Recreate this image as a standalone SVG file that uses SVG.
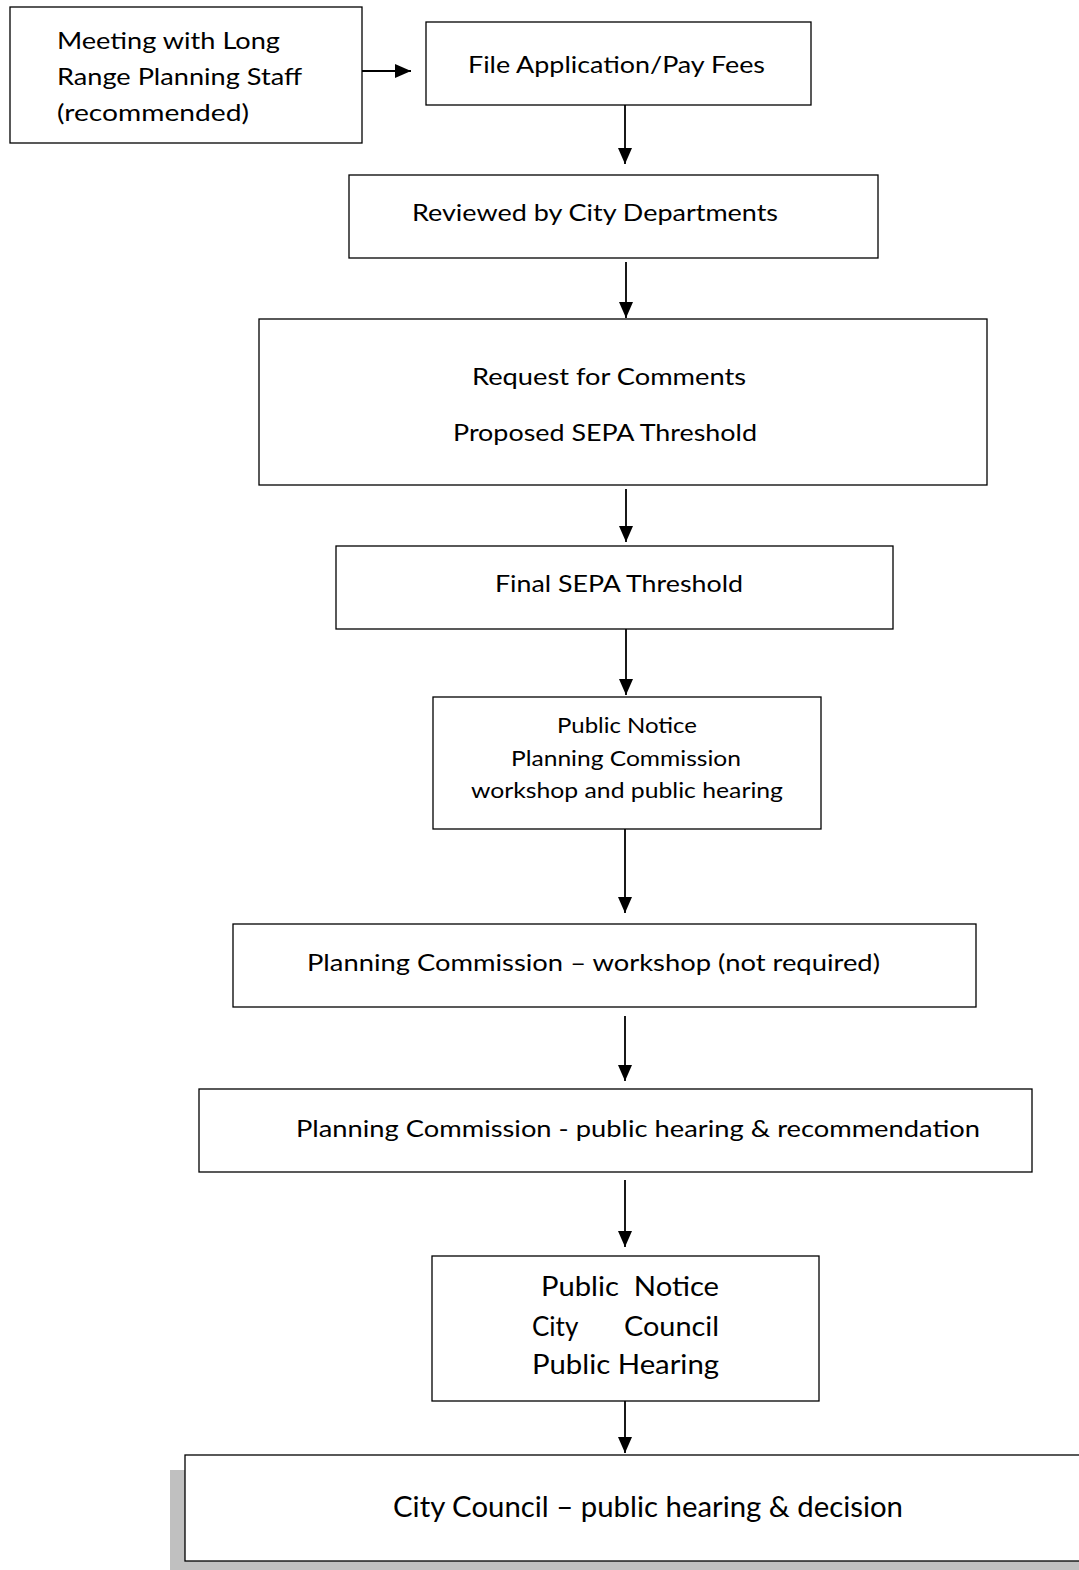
<svg xmlns="http://www.w3.org/2000/svg" width="1079" height="1570" viewBox="0 0 1079 1570">
<defs>
<style>
.box{fill:#fff;stroke:#000;stroke-width:1.3}
.t{font-family:Lato,"Open Sans","Liberation Sans",sans-serif;fill:#000;font-size:24px}
.conn{stroke:#000;stroke-width:1.8;fill:none;marker-end:url(#ah)}
</style>
<marker id="ah" viewBox="0 0 16 14" refX="16" refY="7" markerWidth="16" markerHeight="14" markerUnits="userSpaceOnUse" orient="auto">
<path d="M0,0 L16,7 L0,14 z" fill="#000"/>
</marker>
</defs>
<rect width="1079" height="1570" fill="#fff"/>
<g id="connectors">
<line class="conn" x1="362" y1="71" x2="411" y2="71"/>
<line class="conn" x1="625" y1="105" x2="625" y2="164"/>
<line class="conn" x1="626" y1="262" x2="626" y2="318"/>
<line class="conn" x1="626" y1="489" x2="626" y2="542"/>
<line class="conn" x1="626" y1="629" x2="626" y2="695"/>
<line class="conn" x1="625" y1="829" x2="625" y2="913"/>
<line class="conn" x1="625" y1="1016" x2="625" y2="1081"/>
<line class="conn" x1="625" y1="1180" x2="625" y2="1247"/>
<line class="conn" x1="625" y1="1401" x2="625" y2="1453"/>
</g>
<g id="n1">
<rect class="box" x="10" y="7" width="352" height="136"/>
<text class="t" x="57" y="49" textLength="223" lengthAdjust="spacingAndGlyphs">Meeting with Long</text>
<text class="t" x="57" y="85" textLength="245" lengthAdjust="spacingAndGlyphs">Range Planning Staff</text>
<text class="t" x="57" y="121" textLength="192" lengthAdjust="spacingAndGlyphs">(recommended)</text>
</g>
<g id="n2">
<rect class="box" x="426" y="22" width="385" height="83"/>
<text class="t" x="468" y="73" textLength="297" lengthAdjust="spacingAndGlyphs">File Application/Pay Fees</text>
</g>
<g id="n3">
<rect class="box" x="349" y="175" width="529" height="83"/>
<text class="t" x="412" y="221" textLength="366" lengthAdjust="spacingAndGlyphs">Reviewed by City Departments</text>
</g>
<g id="n4">
<rect class="box" x="259" y="319" width="728" height="166"/>
<text class="t" x="472" y="385" textLength="274" lengthAdjust="spacingAndGlyphs">Request for Comments</text>
<text class="t" x="453" y="441" textLength="304" lengthAdjust="spacingAndGlyphs">Proposed SEPA Threshold</text>
</g>
<g id="n5">
<rect class="box" x="336" y="546" width="557" height="83"/>
<text class="t" x="495" y="592" textLength="248" lengthAdjust="spacingAndGlyphs">Final SEPA Threshold</text>
</g>
<g id="n6">
<rect class="box" x="433" y="697" width="388" height="132"/>
<text class="t" style="font-size:21px" x="557" y="733" textLength="140" lengthAdjust="spacingAndGlyphs">Public Notice</text>
<text class="t" style="font-size:21px" x="511" y="766" textLength="230" lengthAdjust="spacingAndGlyphs">Planning Commission</text>
<text class="t" style="font-size:21px" x="471" y="798" textLength="312" lengthAdjust="spacingAndGlyphs">workshop and public hearing</text>
</g>
<g id="n7">
<rect class="box" x="233" y="924" width="743" height="83"/>
<text class="t" x="307" y="971" textLength="573" lengthAdjust="spacingAndGlyphs">Planning Commission – workshop (not required)</text>
</g>
<g id="n8">
<rect class="box" x="199" y="1089" width="833" height="83"/>
<text class="t" x="296" y="1137" textLength="684" lengthAdjust="spacingAndGlyphs">Planning Commission - public hearing &amp; recommendation</text>
</g>
<g id="n9">
<rect class="box" x="432" y="1256" width="387" height="145"/>
<text class="t" style="font-size:26px" x="541" y="1296" textLength="178" lengthAdjust="spacingAndGlyphs" xml:space="preserve">Public  Notice</text>
<text class="t" style="font-size:26px" x="532" y="1336">City</text>
<text class="t" style="font-size:26px" x="624" y="1336" textLength="95" lengthAdjust="spacingAndGlyphs">Council</text>
<text class="t" style="font-size:26px" x="532" y="1374" textLength="187" lengthAdjust="spacingAndGlyphs">Public Hearing</text>
</g>
<g id="n10">
<rect x="170" y="1470" width="920" height="100" fill="#c0c0c0"/>
<rect class="box" x="185" y="1455" width="900" height="106"/>
<text class="t" style="font-size:28px" x="393" y="1517" textLength="510" lengthAdjust="spacingAndGlyphs">City Council – public hearing &amp; decision</text>
</g>
</svg>
